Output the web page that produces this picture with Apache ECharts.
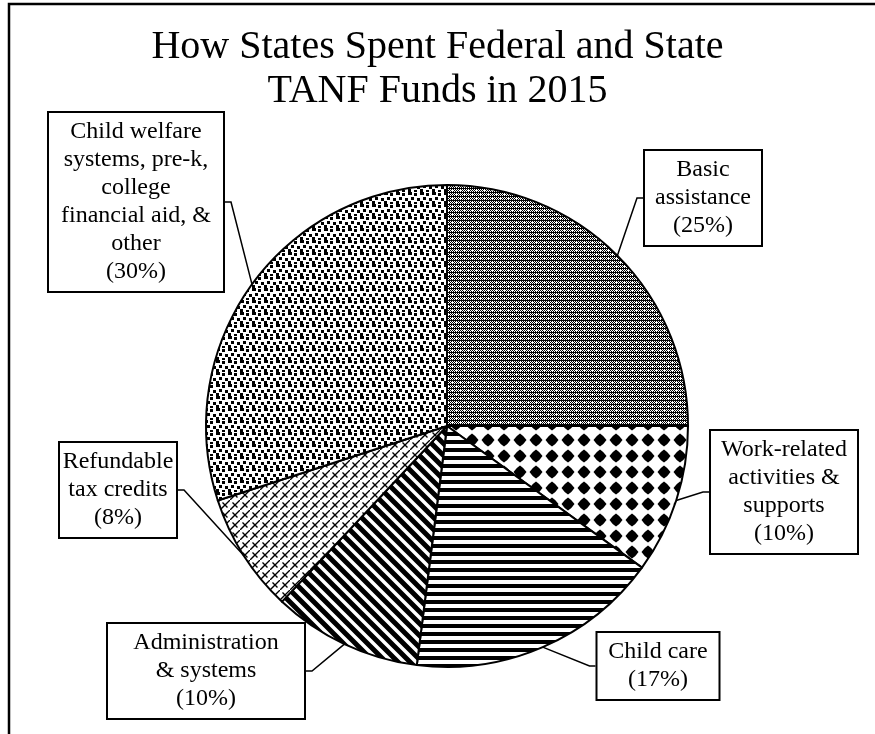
<!DOCTYPE html>
<html>
<head>
<meta charset="utf-8">
<script src="https://cdn.jsdelivr.net/npm/echarts@6/dist/echarts.min.js"></script>
<style>
  html, body { margin: 0; padding: 0; background: #fff; }
  #chart { width: 875px; height: 734px; }
</style>
</head>
<body>
<div id="chart"></div>
<script>
// 数据：按顺时针顺序，从 12 点方向开始
var categories = [
    'Basic\nassistance',
    'Work-related\nactivities &\nsupports',
    'Child care',
    'Administration\n& systems',
    'Refundable\ntax credits',
    'Child welfare\nsystems, pre-k,\ncollege\nfinancial aid, &\nother'
];
var shares = [25, 10, 17, 10, 8, 30];

var titleText = 'How States Spent Federal and State\nTANF Funds in 2015';

// 标注框的位置（中心点）和宽度
var boxes = [
    {cx: 703, cy: 198, w: 100},
    {cx: 784, cy: 492, w: 130},
    {cx: 658, cy: 666, w: 105},
    {cx: 206, cy: 671, w: 180},
    {cx: 118, cy: 490, w: 100},
    {cx: 136, cy: 202, w: 158}
];

// 生成填充图案
function makeTile(size, draw) {
    var c = document.createElement('canvas');
    c.width = size;
    c.height = size;
    var ctx = c.getContext('2d');
    ctx.fillStyle = '#fff';
    ctx.fillRect(0, 0, size, size);
    ctx.fillStyle = '#000';
    ctx.strokeStyle = '#000';
    draw(ctx, size);
    return {image: c, repeat: 'repeat'};
}

// 深灰网点 + 白点
var patBasic = makeTile(8, function (ctx) {
    for (var y = 0; y < 8; y++) {
        for (var x = 0; x < 8; x++) {
            if ((x + y) % 2 === 0 || (x % 2 === 1 && y % 4 === 0)) ctx.fillRect(x, y, 1, 1);
        }
    }
    ctx.fillStyle = '#fff';
    ctx.fillRect(1, 2, 1, 1);
    ctx.fillRect(0, 2, 1, 1);
    ctx.fillRect(5, 6, 1, 1);
    ctx.fillRect(4, 6, 1, 1);
});

// 黑色菱形（边略外凸）
var patDiamond = makeTile(16, function (ctx) {
    ctx.beginPath();
    ctx.moveTo(8, 1.5);
    ctx.quadraticCurveTo(12, 4, 14.5, 8);
    ctx.quadraticCurveTo(12, 12, 8, 14.5);
    ctx.quadraticCurveTo(4, 12, 1.5, 8);
    ctx.quadraticCurveTo(4, 4, 8, 1.5);
    ctx.closePath();
    ctx.fill();
});

// 横条纹
var patHoriz = makeTile(8, function (ctx) {
    ctx.fillRect(0, 0, 8, 4);
});

// 斜条纹 "\"
var patDiag = makeTile(12, function (ctx) {
    ctx.lineWidth = 5;
    ctx.beginPath();
    ctx.moveTo(-3, -3); ctx.lineTo(15, 15);
    ctx.moveTo(-15, -3); ctx.lineTo(3, 15);
    ctx.moveTo(9, -3); ctx.lineTo(27, 15);
    ctx.stroke();
});

// 斜砖纹
var patBrick = makeTile(10, function (ctx) {
    ctx.lineWidth = 1.4;
    ctx.beginPath();
    ctx.moveTo(-1, 11); ctx.lineTo(11, -1);
    ctx.moveTo(2.5, 2.5); ctx.lineTo(7.5, 7.5);
    ctx.stroke();
});

// 散点小方块
var patConfetti = makeTile(12, function (ctx) {
    ctx.fillRect(0, 0, 4, 3);
    ctx.fillRect(6, 1, 3, 3);
    ctx.fillRect(3, 5, 3, 3);
    ctx.fillRect(9, 6, 3, 3);
    ctx.fillRect(6, 10, 3, 2);
    ctx.fillRect(0, 9, 3, 3);
});

var patterns = [patBasic, patDiamond, patHoriz, patDiag, patBrick, patConfetti];

var pieData = categories.map(function (name, i) {
    return {
        name: name,
        value: shares[i],
        itemStyle: {color: patterns[i]},
        label: {width: boxes[i].w}
    };
});

var mcharts = echarts.init(document.getElementById('chart'));

var option = {
    backgroundColor: '#fff',
    animation: false,
    title: {
        text: titleText,
        left: 'center',
        top: 20,
        textStyle: {
            fontFamily: 'Liberation Serif',
            fontSize: 40,
            fontWeight: 'normal',
            color: '#000',
            lineHeight: 44
        }
    },
    graphic: [
        {
            type: 'rect',
            shape: {x: 9, y: 4, width: 900, height: 800},
            style: {fill: 'none', stroke: '#000', lineWidth: 2.5},
            silent: true,
            z: -1
        }
    ],
    series: [
        {
            type: 'pie',
            center: [447, 426],
            radius: 241,
            startAngle: 90,
            clockwise: true,
            avoidLabelOverlap: false,
            itemStyle: {
                borderColor: '#000',
                borderWidth: 2
            },
            label: {
                show: true,
                position: 'outside',
                formatter: '{b}\n({c}%)',
                fontFamily: 'Liberation Serif',
                fontSize: 24,
                lineHeight: 28,
                color: '#000',
                align: 'center',
                overflow: 'none',
                backgroundColor: '#fff',
                borderColor: '#000',
                borderWidth: 2,
                padding: [5, 8]
            },
            labelLine: {
                show: true,
                length: 10,
                length2: 6,
                lineStyle: {color: '#000', width: 1.5}
            },
            labelLayout: function (params) {
                var b = boxes[params.dataIndex];
                return {x: b.cx, y: b.cy, align: 'center', verticalAlign: 'middle'};
            },
            emphasis: {disabled: true},
            data: pieData
        }
    ]
};

mcharts.setOption(option, true);
</script>
</body>
</html>
